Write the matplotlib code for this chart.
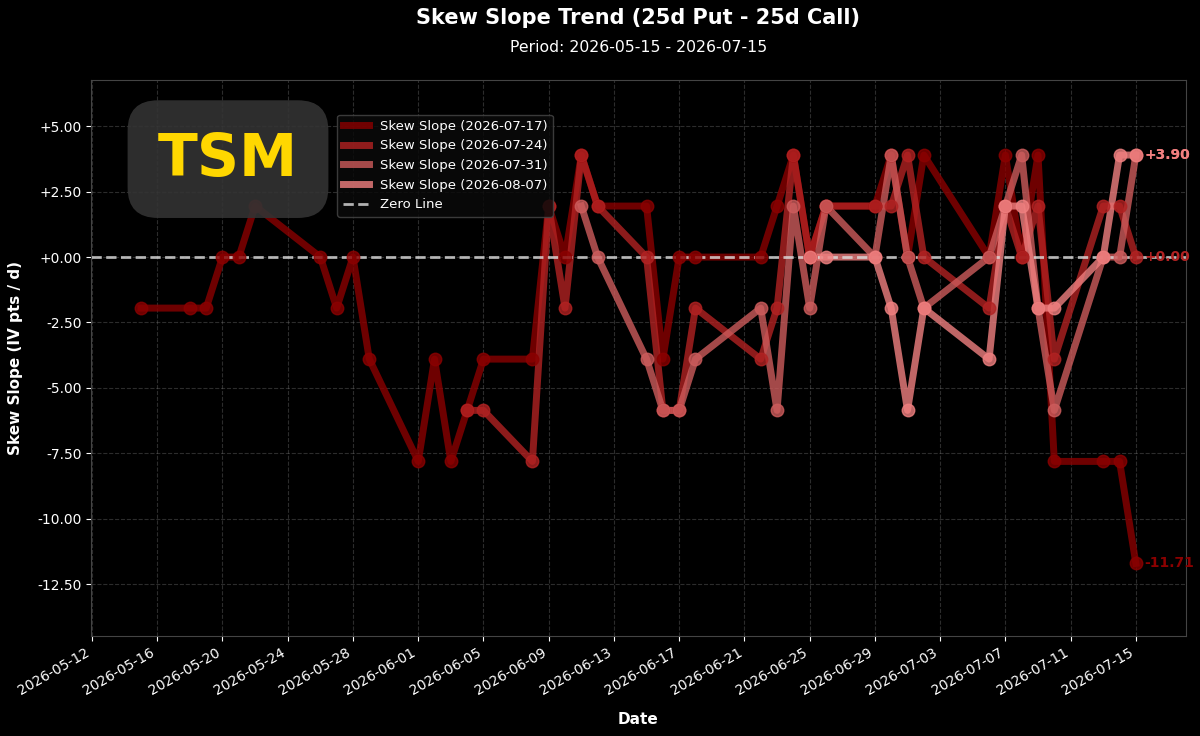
import numpy as np
import pandas as pd
import matplotlib
matplotlib.use('Agg')
import matplotlib.pyplot as plt
import matplotlib.dates as mdates
from matplotlib.ticker import FuncFormatter, MultipleLocator

# ---- data ----
ticker = 'TSM'
period = ('2026-05-15', '2026-07-15')
expiries = ['2026-07-17', '2026-07-24', '2026-07-31', '2026-08-07']

dates_0717 = ['2026-05-15', '2026-05-18', '2026-05-19', '2026-05-20', '2026-05-21', '2026-05-22',
              '2026-05-26', '2026-05-27', '2026-05-28', '2026-05-29', '2026-06-01', '2026-06-02',
              '2026-06-03', '2026-06-04', '2026-06-05', '2026-06-08', '2026-06-09', '2026-06-10',
              '2026-06-11', '2026-06-12', '2026-06-15', '2026-06-16', '2026-06-17', '2026-06-18',
              '2026-06-22', '2026-06-23', '2026-06-24', '2026-06-25', '2026-06-26', '2026-06-29',
              '2026-06-30', '2026-07-01', '2026-07-02', '2026-07-06', '2026-07-07', '2026-07-08',
              '2026-07-09', '2026-07-10', '2026-07-13', '2026-07-14', '2026-07-15']
skew_0717 = [-1.95, -1.95, -1.95, 0.00, 0.00, 1.95,
             0.00, -1.95, 0.00, -3.90, -7.81, -3.90,
             -7.81, -5.86, -3.90, -3.90, 1.95, 0.00,
             3.90, 1.95, 1.95, -3.90, 0.00, 0.00,
             0.00, 1.95, 3.90, 0.00, 1.95, 1.95,
             3.90, 0.00, 3.90, 0.00, 3.90, 0.00,
             3.90, -7.81, -7.81, -7.81, -11.71]

dates_0724 = ['2026-06-04', '2026-06-05', '2026-06-08', '2026-06-09', '2026-06-10', '2026-06-11',
              '2026-06-12', '2026-06-15', '2026-06-16', '2026-06-17', '2026-06-18', '2026-06-22',
              '2026-06-23', '2026-06-24', '2026-06-25', '2026-06-26', '2026-06-29', '2026-06-30',
              '2026-07-01', '2026-07-02', '2026-07-06', '2026-07-07', '2026-07-08', '2026-07-09',
              '2026-07-10', '2026-07-13', '2026-07-14', '2026-07-15']
skew_0724 = [-5.86, -5.86, -7.81, 1.95, -1.95, 3.90,
             1.95, 0.00, -5.86, -5.86, -1.95, -3.90,
             -1.95, 3.90, 0.00, 1.95, 1.95, 1.95,
             3.90, 0.00, -1.95, 1.95, 0.00, 1.95,
             -3.90, 1.95, 1.95, 0.00]

dates_0731 = ['2026-06-11', '2026-06-12', '2026-06-15', '2026-06-16', '2026-06-17', '2026-06-18',
              '2026-06-22', '2026-06-23', '2026-06-24', '2026-06-25', '2026-06-26', '2026-06-29',
              '2026-06-30', '2026-07-01', '2026-07-02', '2026-07-06', '2026-07-07', '2026-07-08',
              '2026-07-09', '2026-07-10', '2026-07-13', '2026-07-14', '2026-07-15']
skew_0731 = [1.95, 0.00, -3.90, -5.86, -5.86, -3.90,
             -1.95, -5.86, 1.95, -1.95, 1.95, 0.00,
             3.90, 0.00, -1.95, 0.00, 1.95, 3.90,
             -1.95, -5.86, 0.00, 0.00, 3.90]

dates_0807 = ['2026-06-25', '2026-06-26', '2026-06-29', '2026-06-30', '2026-07-01', '2026-07-02',
              '2026-07-06', '2026-07-07', '2026-07-08', '2026-07-09', '2026-07-10', '2026-07-13',
              '2026-07-14', '2026-07-15']
skew_0807 = [0.00, 0.00, 0.00, -1.95, -5.86, -1.95,
             -3.90, 1.95, 1.95, -1.95, -1.95, 0.00,
             3.90, 3.90]

colors = ['#8B0000', '#B22222', '#CD5C5C', '#F08080']

# ---- plot ----
plt.rcParams['font.family'] = 'DejaVu Sans'
fig, ax = plt.subplots(figsize=(12, 7.36), dpi=100)
fig.patch.set_facecolor('black')
ax.set_facecolor('black')
fig.subplots_adjust(left=0.076, right=0.988, top=0.891, bottom=0.136)

series = [(dates_0717, skew_0717), (dates_0724, skew_0724),
          (dates_0731, skew_0731), (dates_0807, skew_0807)]
for (d, v), exp, c in zip(series, expiries, colors):
    d = pd.to_datetime(d)
    ax.plot(d, v, color=c, lw=5, alpha=0.8, label='Skew Slope (%s)' % exp, zorder=2)
    ax.plot(d, v, 'o', color=c, ms=9, alpha=0.8, zorder=3)
    ax.annotate('%+.2f' % v[-1], (d[-1], v[-1]), xytext=(6, 0), textcoords='offset points',
                color=c, fontsize=10, fontweight='bold', va='center', ha='left', zorder=4)

ax.axhline(0, color='#dddddd', ls='--', lw=2, alpha=0.8, label='Zero Line', zorder=2.5)

ax.set_ylim(-14.48, 6.76)
ax.yaxis.set_major_locator(MultipleLocator(2.5))
ax.yaxis.set_major_formatter(FuncFormatter(lambda y, _: '%+.2f' % y))
ax.set_xticks(pd.date_range('2026-05-12', '2026-07-15', freq='4D'))
ax.xaxis.set_major_formatter(mdates.DateFormatter('%Y-%m-%d'))
plt.setp(ax.get_xticklabels(), rotation=30, ha='right')

ax.tick_params(colors='white', labelsize=10)
for s in ax.spines.values():
    s.set_color('#444444')
ax.grid(True, ls='--', color='gray', alpha=0.35, lw=0.8)

ax.set_xlabel('Date', color='white', fontsize=11, fontweight='bold', labelpad=10)
ax.set_ylabel('Skew Slope (IV pts / d)', color='white', fontsize=11, fontweight='bold', labelpad=10)
ax.text(0.5, 1.1115, 'Skew Slope Trend (25d Put - 25d Call)', transform=ax.transAxes,
        color='white', fontsize=15, fontweight='bold', ha='center', va='center')
ax.text(0.5, 1.059, 'Period: %s - %s' % period, transform=ax.transAxes,
        color='white', fontsize=11.3, ha='center', va='center')

ax.text(0.125, 0.858, ticker, transform=ax.transAxes, fontsize=42, fontweight='bold',
        color='#FFD700', ha='center', va='center', zorder=10,
        bbox=dict(boxstyle='round,pad=0.52', facecolor='#333333', edgecolor='none', alpha=0.9))

leg = ax.legend(loc='upper left', bbox_to_anchor=(0.219, 0.95), fontsize=9.5,
                facecolor='#0a0a0a', edgecolor='#444444', framealpha=0.85)
for t in leg.get_texts():
    t.set_color('white')

fig.savefig('out.png', dpi=100, facecolor=fig.get_facecolor())
